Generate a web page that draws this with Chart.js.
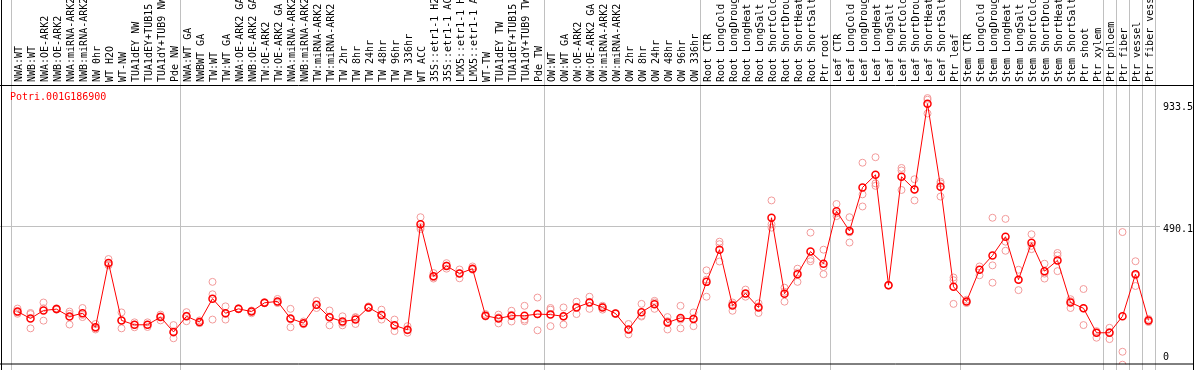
<!DOCTYPE html>
<html>
<head>
<meta charset="utf-8">
<script src="https://cdn.jsdelivr.net/npm/chart.js@4.4.1/dist/chart.umd.min.js"></script>
<style>
  html, body { margin: 0; padding: 0; background: #fff; }
  #wrap { width: 1194px; height: 370px; position: relative; }
</style>
</head>
<body>
<div id="wrap"><canvas id="expr_chart"></canvas></div>
<script>
// ---------- Data ----------
var geneId = 'Potri.001G186900';

var sampleLabels = [
	'NWA:WT', 'NWB:WT', 'NWA:OE-ARK2', 'NWB:OE-ARK2', 'NWA:miRNA-ARK2', 'NWB:miRNA-ARK2',
	'NW 0hr', 'WT H2O', 'WT-NW', 'TUA1dEY NW', 'TUA1dEY+TUB15 NW', 'TUA1dY+TUB9 NW', 'Pde NW',
	'NWA:WT GA', 'NWBWT GA', 'TW:WT', 'TW:WT GA', 'NWA:OE-ARK2 GA', 'NWB:OE-ARK2 GA',
	'TW:OE-ARK2', 'TW:OE-ARK2 GA', 'NWA:miRNA-ARK2 GA', 'NWB:miRNA-ARK2 GA', 'TW:miRNA-ARK2',
	'TW:miRNA-ARK2 GA', 'TW 2hr', 'TW 8hr', 'TW 24hr', 'TW 48hr', 'TW 96hr', 'TW 336hr',
	'WT ACC', '35S::etr1-1 H2O', '35S::etr1-1 ACC', 'LMX5::etr1-1 H2O', 'LMX5::etr1-1 ACC',
	'WT-TW', 'TUA1dEY TW', 'TUA1dEY+TUB15 TW', 'TUA1dY+TUB9 TW', 'Pde TW',
	'OW:WT', 'OW:WT GA', 'OW:OE-ARK2', 'OW:OE-ARK2 GA', 'OW:miRNA-ARK2', 'OW:miRNA-ARK2 GA',
	'OW 2hr', 'OW 8hr', 'OW 24hr', 'OW 48hr', 'OW 96hr', 'OW 336hr',
	'Root CTR', 'Root LongCold', 'Root LongDrought', 'Root LongHeat', 'Root LongSalt',
	'Root ShortCold', 'Root ShortDrought', 'Root ShortHeat', 'Root ShortSalt', 'Ptr root',
	'Leaf CTR', 'Leaf LongCold', 'Leaf LongDrought', 'Leaf LongHeat', 'Leaf LongSalt',
	'Leaf ShortCold', 'Leaf ShortDrought', 'Leaf ShortHeat', 'Leaf ShortSalt', 'Ptr leaf',
	'Stem CTR', 'Stem LongCold', 'Stem LongDrought', 'Stem LongHeat', 'Stem LongSalt',
	'Stem ShortCold', 'Stem ShortDrought', 'Stem ShortHeat', 'Stem ShortSalt', 'Ptr shoot',
	'Ptr xylem', 'Ptr phloem', 'Ptr fiber', 'Ptr vessel', 'Ptr fiber vessel'
];

var meanValues = [
	178, 153, 182, 187, 160, 172, 121, 355, 146, 130, 130, 158, 104,
	161, 140, 225, 172, 188, 178, 210, 215, 153, 136, 203, 157, 142, 149, 193, 166, 128, 112,
	495, 306, 344, 316, 334, 163, 153, 163, 163, 169,
	167, 161, 193, 211, 193, 171, 113, 176, 205, 138, 155, 151,
	286, 403, 200, 244, 193, 519, 243, 314, 396, 352,
	543, 471, 629, 675, 274, 668, 622, 933.5, 632, 268,
	215, 330, 382, 450, 294, 428, 325, 364, 211, 190, 101,
	101, 161, 314, 146
];

var rep1 = [
	175, 169, 211, 185, 170, 191, 133, 369, 175, 139, 139, 167, 129,
	176, 146, 286, 197, 186, 182, 208, 224, 188, 142, 217, 182, 161, 158, 197, 185, 149, 125,
	521, 318, 354, 331, 342, 169, 167, 181, 199, 229,
	191, 193, 214, 232, 199, 170, 133, 206, 217, 158, 199, 175,
	328, 432, 211, 258, 208, 582, 265, 334, 465, 403,
	569, 521, 719, 739, 274, 700, 659, 954, 650, 302,
	221, 342, 519, 515, 330, 459, 352, 391, 223, 260, 107,
	119, 467, 361, 151
];

var rep2 = [
	170, 117, 145, 190, 131, 158, 113, 346, 117, 121, 130, 146, 81,
	143, 137, 241, 149, 190, 172, 212, 211, 121, 132, 191, 128, 128, 133, 191, 149, 107, 101,
	485, 298, 334, 299, 334, 161, 135, 142, 149, 110,
	125, 131, 169, 188, 185, 172, 95, 163, 211, 113, 117, 125,
	294, 423, 181, 232, 173, 495, 214, 286, 369, 340,
	525, 429, 604, 644, 275, 691, 622, 898, 644, 292,
	214, 330, 346, 432, 294, 417, 316, 382, 191, 190, 101,
	78, 32, 271, 143
];

var rep3 = [
	189, 173, 190, 186, 178, 166, 117, 349, 145, 130, 122, 161, 101,
	163, 136, 149, 170, 188, 179, 210, 209, 150, 134, 202, 160, 137, 156, 192, 164, 126, 110,
	478, 303, 345, 317, 330, 160, 157, 166, 143, 168,
	185, 159, 195, 213, 195, 170, 111, 160, 188, 143, 149, 153,
	232, 360, 204, 242, 197, 483, 250, 320, 361, 314,
	535, 466, 560, 635, 272, 620, 582, 948, 596, 206,
	209, 310, 283, 399, 256, 405, 298, 325, 216, 129, 83,
	104, -15, 310, 140
];

var yTickValues = [0, 490.1, 933.5];

// index of the first sample in each block, last entry closes the plot
var groupStarts = [0, 13, 41, 53, 63, 73, 84, 85, 86, 87, 88];

// ---------- Replicate points ----------
var repPoints = [];
[rep1, rep2, rep3].forEach(function (reps) {
	reps.forEach(function (v, i) {
		repPoints.push({ x: sampleLabels[i], y: v });
	});
});

var monoFont = "'DejaVu Sans Mono', monospace";

// ---------- Frame, separators and texts ----------
var bmFramePlugin = {
	id: 'bmFrame',
	beforeDatasetsDraw: function (chart) {
		var ctx = chart.ctx;
		var xs = chart.scales.x;
		var ys = chart.scales.y;
		var half = (xs.getPixelForValue(1) - xs.getPixelForValue(0)) / 2;
		ctx.save();
		ctx.strokeStyle = '#c0c0c0';
		ctx.lineWidth = 1;
		ctx.beginPath();
		groupStarts.forEach(function (k) {
			var px = Math.round(xs.getPixelForValue(k) - half) + 0.5;
			ctx.moveTo(px, 0);
			ctx.lineTo(px, chart.height);
		});
		var gy = Math.round(ys.getPixelForValue(yTickValues[1])) + 0.5;
		ctx.moveTo(0, gy);
		ctx.lineTo(chart.chartArea.right + 5, gy);
		ctx.stroke();
		ctx.restore();
	},
	afterDraw: function (chart) {
		var ctx = chart.ctx;
		var ys = chart.scales.y;
		var area = chart.chartArea;
		ctx.save();
		ctx.strokeStyle = '#000';
		ctx.lineWidth = 1;
		ctx.beginPath();
		ctx.moveTo(0, area.top + 0.5);
		ctx.lineTo(chart.width, area.top + 0.5);
		ctx.moveTo(0, area.bottom - 0.5);
		ctx.lineTo(chart.width, area.bottom - 0.5);
		ctx.moveTo(1.5, 0);
		ctx.lineTo(1.5, chart.height);
		ctx.moveTo(chart.width - 0.5, 0);
		ctx.lineTo(chart.width - 0.5, chart.height);
		ctx.stroke();

		ctx.font = '10px ' + monoFont;
		ctx.textAlign = 'left';
		ctx.textBaseline = 'middle';
		ctx.fillStyle = '#000';
		yTickValues.forEach(function (v) {
			var py = ys.getPixelForValue(v);
			ctx.fillText(String(v), area.right + 8, v === 0 ? py - 3 : py + 4);
		});

		ctx.fillStyle = '#ff0000';
		ctx.fillText(geneId, 10, area.top + 12);
		ctx.restore();
	}
};

new Chart(document.getElementById('expr_chart').getContext('2d'), {
	type: 'line',
	data: {
		labels: sampleLabels,
		datasets: [{
			label: 'mean',
			data: meanValues,
			order: 0,
			borderColor: '#ff0000',
			borderWidth: 1,
			tension: 0,
			pointRadius: 3.5,
			pointBorderWidth: 1.5,
			pointBorderColor: '#ff0000',
			pointBackgroundColor: 'rgba(255,255,255,0)'
		}, {
			label: 'replicates',
			data: repPoints,
			order: 1,
			showLine: false,
			pointRadius: 3.5,
			pointBorderWidth: 1,
			pointBorderColor: '#f29a9a',
			pointBackgroundColor: 'rgba(255,255,255,0)'
		}]
	},
	options: {
		responsive: true,
		maintainAspectRatio: false,
		animation: false,
		events: [],
		layout: { padding: { left: 11, right: 0, top: 0, bottom: 1 } },
		plugins: {
			legend: { display: false },
			tooltip: { enabled: false }
		},
		scales: {
			x: {
				type: 'category',
				position: 'top',
				offset: true,
				grid: { display: false, drawTicks: false },
				border: { display: false },
				ticks: {
					autoSkip: false,
					minRotation: 90,
					maxRotation: 90,
					padding: 3,
					labelOffset: 14,
					color: '#000',
					font: { family: monoFont, size: 10 }
				},
				afterFit: function (scale) { scale.height = 85; }
			},
			y: {
				position: 'right',
				min: -14.3,
				max: 1001.5,
				grid: { display: false, drawTicks: false },
				border: { display: false },
				ticks: { display: false },
				afterFit: function (scale) { scale.width = 39; }
			}
		}
	},
	plugins: [bmFramePlugin]
});
</script>
</body>
</html>
